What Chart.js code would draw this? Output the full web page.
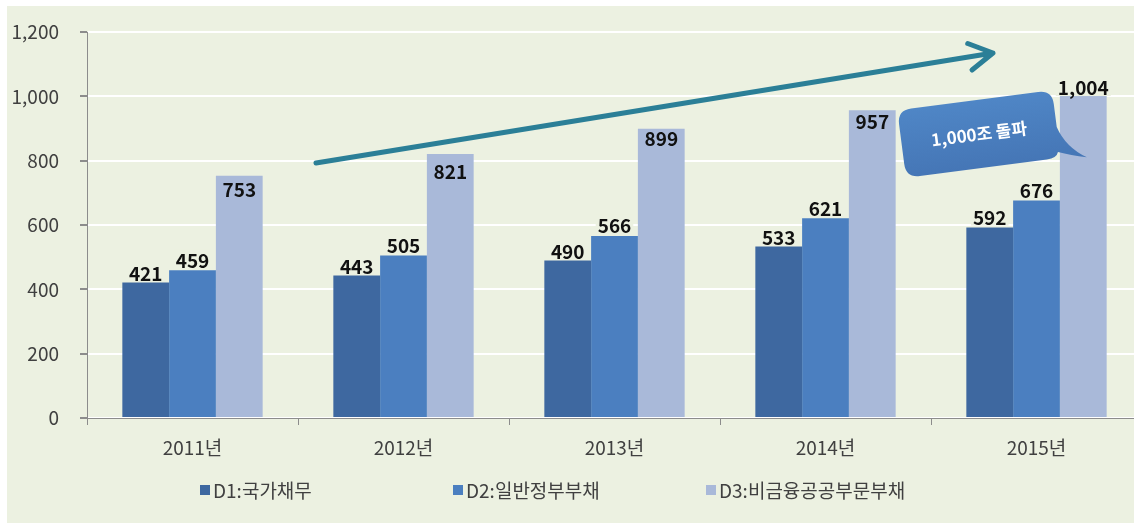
<!DOCTYPE html>
<html>
<head>
<meta charset="utf-8">
<script src="https://cdn.jsdelivr.net/npm/chart.js@4.4.1/dist/chart.umd.min.js"></script>
<style>
  html, body { margin: 0; padding: 0; background: #ffffff; overflow: hidden; width: 1134px; height: 524px; }
  #wrap { position: absolute; left: 7px; top: 6px; width: 1140px; height: 517px; background: #ecf1e1; }
</style>
</head>
<body>
<div id="wrap"><canvas id="debtChart"></canvas></div>
<script>
const years = ['2011년', '2012년', '2013년', '2014년', '2015년'];
const d1Values = [421, 443, 490, 533, 592];
const d2Values = [459, 505, 566, 621, 676];
const d3Values = [753, 821, 899, 957, 1004];
const seriesNames = ['D1:국가채무', 'D2:일반정부부채', 'D3:비금융공공부문부채'];
const yTicks = [0, 200, 400, 600, 800, 1000, 1200];
const calloutText = '1,000조 돌파';

const colors = ['#3e68a0', '#4b7fc0', '#a9b9d9'];
const bgColor = '#ecf1e1';
const textColor = '#404040';
const fontFamily = '"Noto Sans CJK KR", "Noto Sans", sans-serif';

// label offsets from bar top (center of text), per dataset
const labelShift = [[-10, -10, -10, -10, -11], [-11, -11, -11, -10, -11], [13, 17, 9, 11, -8]];

const fmt = v => v.toLocaleString('en-US');

const valueLabels = {
  id: 'valueLabels',
  afterDatasetsDraw(chart) {
    const ctx = chart.ctx;
    ctx.save();
    ctx.font = 'bold 19px ' + fontFamily;
    ctx.textAlign = 'center';
    ctx.textBaseline = 'middle';
    chart.data.datasets.forEach((ds, di) => {
      const meta = chart.getDatasetMeta(di);
      meta.data.forEach((bar, i) => {
        const txt = fmt(ds.data[i]);
        const dy = labelShift[di][i];
        const y = bar.y + dy;
        if (dy < 0) {
          const w = ctx.measureText(txt).width + 4;
          ctx.fillStyle = bgColor;
          ctx.fillRect(bar.x - w / 2, y - 10, w, 19);
        }
        ctx.fillStyle = '#111111';
        ctx.fillText(txt, bar.x, y + 1);
      });
    });
    ctx.restore();
  }
};

const extras = {
  id: 'extras',
  afterDraw(chart) {
    const ctx = chart.ctx;
    ctx.save();
    // trend arrow
    const x0 = 309, y0 = 157, x1 = 986, y1 = 47;
    ctx.strokeStyle = '#2b7f97';
    ctx.lineWidth = 5;
    ctx.lineCap = 'round';
    ctx.lineJoin = 'round';
    ctx.beginPath();
    ctx.moveTo(x0, y0);
    ctx.lineTo(x1, y1);
    const ang = Math.atan2(y1 - y0, x1 - x0);
    const hl = 27;
    ctx.moveTo(x1 + hl * Math.cos(ang + Math.PI - 0.52), y1 + hl * Math.sin(ang + Math.PI - 0.52));
    ctx.lineTo(x1, y1);
    ctx.lineTo(x1 + hl * Math.cos(ang + Math.PI + 0.52), y1 + hl * Math.sin(ang + Math.PI + 0.52));
    ctx.stroke();

    // callout bubble
    ctx.translate(972, 128);
    ctx.rotate(-7.4 * Math.PI / 180);
    const w = 156, h = 68, r = 14;
    const g = ctx.createLinearGradient(0, -h / 2, 0, h / 2);
    g.addColorStop(0, '#4f86c6');
    g.addColorStop(1, '#4576b6');
    ctx.fillStyle = g;
    ctx.beginPath();
    ctx.moveTo(-w / 2 + r, -h / 2);
    ctx.lineTo(w / 2 - r, -h / 2);
    ctx.quadraticCurveTo(w / 2, -h / 2, w / 2, -h / 2 + r);
    ctx.lineTo(w / 2, 3);
    ctx.quadraticCurveTo(w / 2 + 6, 24, 104, 37);
    ctx.quadraticCurveTo(w / 2 + 10, 33, w / 2 - 2, 28);
    ctx.quadraticCurveTo(w / 2 - 4, h / 2, w / 2 - r, h / 2);
    ctx.lineTo(-w / 2 + r, h / 2);
    ctx.quadraticCurveTo(-w / 2, h / 2, -w / 2, h / 2 - r);
    ctx.lineTo(-w / 2, -h / 2 + r);
    ctx.quadraticCurveTo(-w / 2, -h / 2, -w / 2 + r, -h / 2);
    ctx.closePath();
    ctx.fill();
    ctx.fillStyle = '#ffffff';
    ctx.font = 'bold 17px ' + fontFamily;
    ctx.textAlign = 'center';
    ctx.textBaseline = 'middle';
    ctx.fillText(calloutText, 0, 0);
    ctx.restore();

    // legend
    ctx.save();
    ctx.font = '19px ' + fontFamily;
    ctx.textBaseline = 'middle';
    ctx.textAlign = 'left';
    seriesNames.forEach((name, i) => {
      const lx = 193 + i * 253;
      const ly = 484;
      ctx.fillStyle = colors[i];
      ctx.fillRect(lx, ly - 5, 10, 10);
      ctx.fillStyle = textColor;
      ctx.fillText(name, lx + 13, ly + 1);
    });
    ctx.restore();
  }
};

new Chart(document.getElementById('debtChart'), {
  type: 'bar',
  data: {
    labels: years,
    datasets: [
      { label: seriesNames[0], data: d1Values, backgroundColor: colors[0] },
      { label: seriesNames[1], data: d2Values, backgroundColor: colors[1] },
      { label: seriesNames[2], data: d3Values, backgroundColor: colors[2] }
    ]
  },
  options: {
    responsive: true,
    maintainAspectRatio: false,
    animation: false,
    devicePixelRatio: 1,
    layout: { padding: { top: 26, right: 5, left: 0, bottom: 0 } },
    datasets: { bar: { categoryPercentage: 0.665, barPercentage: 1.0 } },
    scales: {
      x: {
        grid: { display: true, drawOnChartArea: false, offset: true, tickLength: 7, tickColor: '#8c8c8c' },
        border: { color: '#8c8c8c', width: 1 },
        ticks: { color: textColor, font: { family: fontFamily, size: 19 }, padding: 11 },
        afterFit(scale) { scale.height = 105; }
      },
      y: {
        min: 0,
        max: 1200,
        afterBuildTicks(scale) { scale.ticks = yTicks.map(v => ({ value: v })); },
        grid: { color: '#ffffff', lineWidth: 2, tickLength: 7, tickColor: '#8c8c8c' },
        border: { color: '#8c8c8c', width: 1 },
        ticks: { color: textColor, font: { family: fontFamily, size: 19 }, padding: 21, callback: v => fmt(v) },
        afterFit(scale) {
          scale.width = 80;
          scale.paddingTop = 10;
          scale.paddingBottom = 10;
        }
      }
    },
    plugins: {
      legend: { display: false },
      tooltip: { enabled: false }
    }
  },
  plugins: [valueLabels, extras]
});
</script>
</body>
</html>
